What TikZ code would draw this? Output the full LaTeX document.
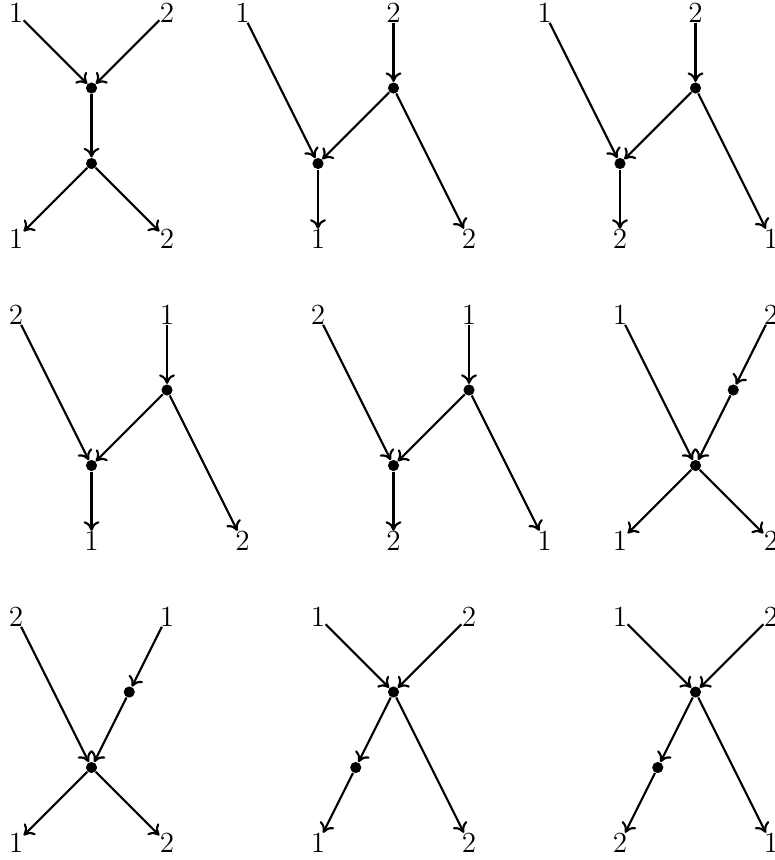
\documentclass[tikz,border=0pt]{standalone}
\usepackage{tikz}
\usetikzlibrary{arrows.meta}

\begin{document}
\begin{tikzpicture}[x=1cm, y=1cm,
  lbl/.style={inner sep=0pt, font=\fontsize{11}{13}\selectfont},
  vtx/.style={circle, fill, inner sep=0pt, minimum size=4.2pt},
  prop/.style={-{To[length=3.6pt, width=6pt]}, thick}]

  \useasboundingbox (-0.212,0.166) rectangle (10.04,-11.225);

  % row 1, panel A
  \node[lbl] (Ai1) at (0,0) {1};
  \node[lbl] (Ai2) at (2,0) {2};
  \node[vtx] (Av) at (1,-1) {};
  \node[vtx] (Aw) at (1,-2) {};
  \node[lbl] (Ao1) at (0,-3) {1};
  \node[lbl] (Ao2) at (2,-3) {2};
  \draw[prop] (Ai1) -- (Av);
  \draw[prop] (Ai2) -- (Av);
  \draw[prop] (Av) -- (Aw);
  \draw[prop] (Aw) -- (Ao1);
  \draw[prop] (Aw) -- (Ao2);

  % row 1, panel B
  \node[lbl] (Bi1) at (3,0) {1};
  \node[lbl] (Bi2) at (5,0) {2};
  \node[vtx] (Bv) at (5,-1) {};
  \node[vtx] (Bw) at (4,-2) {};
  \node[lbl] (Bo1) at (4,-3) {1};
  \node[lbl] (Bo2) at (6,-3) {2};
  \draw[prop] (Bi1) -- (Bw);
  \draw[prop] (Bi2) -- (Bv);
  \draw[prop] (Bv) -- (Bw);
  \draw[prop] (Bw) -- (Bo1);
  \draw[prop] (Bv) -- (Bo2);

  % row 1, panel C
  \node[lbl] (Ci1) at (7,0) {1};
  \node[lbl] (Ci2) at (9,0) {2};
  \node[vtx] (Cv) at (9,-1) {};
  \node[vtx] (Cw) at (8,-2) {};
  \node[lbl] (Co2) at (8,-3) {2};
  \node[lbl] (Co1) at (10,-3) {1};
  \draw[prop] (Ci1) -- (Cw);
  \draw[prop] (Ci2) -- (Cv);
  \draw[prop] (Cv) -- (Cw);
  \draw[prop] (Cw) -- (Co2);
  \draw[prop] (Cv) -- (Co1);

  % row 2, panel D
  \node[lbl] (Di2) at (0,-4) {2};
  \node[lbl] (Di1) at (2,-4) {1};
  \node[vtx] (Dv) at (2,-5) {};
  \node[vtx] (Dw) at (1,-6) {};
  \node[lbl] (Do1) at (1,-7) {1};
  \node[lbl] (Do2) at (3,-7) {2};
  \draw[prop] (Di2) -- (Dw);
  \draw[prop] (Di1) -- (Dv);
  \draw[prop] (Dv) -- (Dw);
  \draw[prop] (Dw) -- (Do1);
  \draw[prop] (Dv) -- (Do2);

  % row 2, panel E
  \node[lbl] (Ei2) at (4,-4) {2};
  \node[lbl] (Ei1) at (6,-4) {1};
  \node[vtx] (Ev) at (6,-5) {};
  \node[vtx] (Ew) at (5,-6) {};
  \node[lbl] (Eo2) at (5,-7) {2};
  \node[lbl] (Eo1) at (7,-7) {1};
  \draw[prop] (Ei2) -- (Ew);
  \draw[prop] (Ei1) -- (Ev);
  \draw[prop] (Ev) -- (Ew);
  \draw[prop] (Ew) -- (Eo2);
  \draw[prop] (Ev) -- (Eo1);

  % row 2, panel F
  \node[lbl] (Fi1) at (8,-4) {1};
  \node[lbl] (Fi2) at (10,-4) {2};
  \node[vtx] (Fv) at (9.5,-5) {};
  \node[vtx] (Fw) at (9,-6) {};
  \node[lbl] (Fo1) at (8,-7) {1};
  \node[lbl] (Fo2) at (10,-7) {2};
  \draw[prop] (Fi1) -- (Fw);
  \draw[prop] (Fi2) -- (Fv);
  \draw[prop] (Fv) -- (Fw);
  \draw[prop] (Fw) -- (Fo1);
  \draw[prop] (Fw) -- (Fo2);

  % row 3, panel G
  \node[lbl] (Gi2) at (0,-8) {2};
  \node[lbl] (Gi1) at (2,-8) {1};
  \node[vtx] (Gv) at (1.5,-9) {};
  \node[vtx] (Gw) at (1,-10) {};
  \node[lbl] (Go1) at (0,-11) {1};
  \node[lbl] (Go2) at (2,-11) {2};
  \draw[prop] (Gi2) -- (Gw);
  \draw[prop] (Gi1) -- (Gv);
  \draw[prop] (Gv) -- (Gw);
  \draw[prop] (Gw) -- (Go1);
  \draw[prop] (Gw) -- (Go2);

  % row 3, panel H
  \node[lbl] (Hi1) at (4,-8) {1};
  \node[lbl] (Hi2) at (6,-8) {2};
  \node[vtx] (Hv) at (5,-9) {};
  \node[vtx] (Hw) at (4.5,-10) {};
  \node[lbl] (Ho1) at (4,-11) {1};
  \node[lbl] (Ho2) at (6,-11) {2};
  \draw[prop] (Hi1) -- (Hv);
  \draw[prop] (Hi2) -- (Hv);
  \draw[prop] (Hv) -- (Hw);
  \draw[prop] (Hw) -- (Ho1);
  \draw[prop] (Hv) -- (Ho2);

  % row 3, panel I
  \node[lbl] (Ii1) at (8,-8) {1};
  \node[lbl] (Ii2) at (10,-8) {2};
  \node[vtx] (Iv) at (9,-9) {};
  \node[vtx] (Iw) at (8.5,-10) {};
  \node[lbl] (Io2) at (8,-11) {2};
  \node[lbl] (Io1) at (10,-11) {1};
  \draw[prop] (Ii1) -- (Iv);
  \draw[prop] (Ii2) -- (Iv);
  \draw[prop] (Iv) -- (Iw);
  \draw[prop] (Iw) -- (Io2);
  \draw[prop] (Iv) -- (Io1);

\end{tikzpicture}
\end{document}
